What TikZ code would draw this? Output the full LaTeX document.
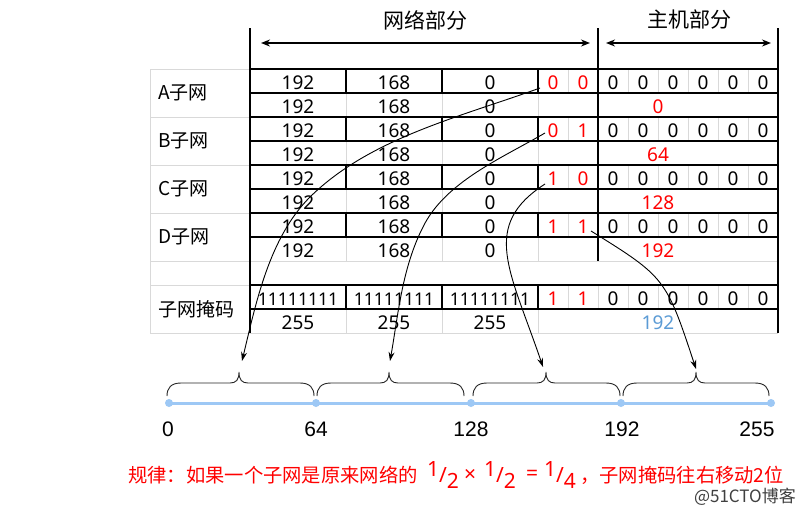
\documentclass[tikz,border=0pt]{standalone}
\usepackage{fontspec}
\setmainfont{Noto Sans}
\newfontfamily\cjkf{Noto Sans CJK SC}
\newfontfamily\arialf{Liberation Sans}
\usetikzlibrary{arrows.meta}
\definecolor{gridgrey}{RGB}{217,217,217}
\definecolor{bitred}{RGB}{255,0,0}
\definecolor{maskblue}{RGB}{91,155,213}
\definecolor{axisblue}{RGB}{157,200,245}
\newcommand\myfrac[2]{\raisebox{0.3em}{#1}/\raisebox{-0.3em}{#2}}
\newcommand\mybrace[3]{%
  \draw[bracepath] (#1,396) .. controls (#1,388) and (#1+4,383) .. (#1+14,383)
    -- (#2-9,383) .. controls (#2-3,383) and (#2,380) .. (#2,372)
    .. controls (#2,380) and (#2+3,383) .. (#2+9,383)
    -- (#3-14,383) .. controls (#3-4,383) and (#3,388) .. (#3,396);}
\begin{document}
\begin{tikzpicture}[x=1pt,y=-1pt,
  gline/.style={draw=gridgrey, line width=1pt},
  bline/.style={draw=black, line width=2pt},
  tcell/.style={anchor=base, inner sep=0pt, font=\fontsize{19}{22}\selectfont},
  onescell/.style={anchor=base, inner sep=0pt, font=\fontsize{17.5}{22}\selectfont},
  redcell/.style={tcell, text=bitred},
  bluecell/.style={tcell, text=maskblue},
  lab/.style={anchor=west, inner sep=0pt, font=\cjkf\fontsize{19}{22}\selectfont},
  hdr/.style={inner sep=0pt, font=\cjkf\fontsize{21}{24}\selectfont},
  harrow/.style={line width=1.5pt, {Stealth[length=9pt,width=7pt]}-{Stealth[length=9pt,width=7pt]}},
  carrow/.style={line width=0.9pt, -{Stealth[length=9pt,width=6pt]}},
  bracepath/.style={draw=black!85, line width=0.9pt},
  axlab/.style={anchor=base, inner sep=0pt, font=\arialf\fontsize{21}{24}\selectfont},
  ruletext/.style={inner sep=0pt, text=bitred, font=\cjkf\fontsize{19.3}{22}\selectfont},
  rulemath/.style={inner sep=0pt, text=bitred, font=\fontsize{21}{24}\selectfont},
]
\useasboundingbox (0,0) rectangle (800,514);
\fill[white] (0,0) rectangle (800,514);

% ---------- grey grid lines ----------
\draw[gline] (150,69) -- (150,333);
\foreach \y in {69,117,165,213,261,285,333} \draw[gline] (150,\y) -- (250,\y);
\draw[gline] (250,261) -- (778,261);
\draw[gline] (250,333) -- (778,333);
\foreach \t in {93,141,189,237,309} \foreach \x in {346,442,538} \draw[gline] (\x,\t) -- (\x,\t+24);
\foreach \t in {69,117,165,213,285} \foreach \x in {568,628,658,688,718,748} \draw[gline] (\x,\t) -- (\x,\t+24);
\draw[gline] (598,285) -- (598,309);

% ---------- thick lines ----------
\draw[bline] (250,28) -- (250,333);
\draw[bline] (778,28) -- (778,333);
\draw[bline] (598,28) -- (598,261);
\foreach \y in {69,93,117,141,165,189,213,237,285,309} \draw[bline] (250,\y) -- (778,\y);
\foreach \t in {69,117,165,213,285} \foreach \x in {346,442,538} \draw[bline] (\x,\t) -- (\x,\t+24);

% ---------- header ----------
\node[hdr] (net) at (425,20) {网络部分};
\node[hdr] (host) at (689,20) {主机部分};
\coordinate (na) at (261,43);
\coordinate (nb) at (590,43);
\coordinate (ha) at (606,43);
\coordinate (hb) at (771,43);
\draw[harrow] (na) -- (nb);
\draw[harrow] (ha) -- (hb);

% ---------- subnet rows ----------
\foreach \r/\Lt/\t/\v/\ba/\bb in {a/A/69/0/0/0, b/B/117/64/0/1, c/C/165/128/1/0, d/D/213/192/1/1} {
  \node[lab] (lab-\r) at (158,\t+24) {{\Lt}子网};
  \node[tcell] (\r-1-a) at (298,\t+20) {192};
  \node[tcell] (\r-1-b) at (394,\t+20) {168};
  \node[tcell] (\r-1-c) at (490,\t+20) {0};
  \node[redcell] (\r-bit1) at (553,\t+20) {\ba};
  \node[redcell] (\r-bit2) at (583,\t+20) {\bb};
  \foreach \x [count=\i] in {613,643,673,703,733,763}
    \node[tcell] (\r-h\i) at (\x,\t+20) {0};
  \node[tcell] (\r-2-a) at (298,\t+44) {192};
  \node[tcell] (\r-2-b) at (394,\t+44) {168};
  \node[tcell] (\r-2-c) at (490,\t+44) {0};
  \node[redcell] (\r-val) at (658,\t+44) {\v};
}

% ---------- mask rows ----------
\node[lab] (lab-m) at (158,309) {子网掩码};
\node[onescell] (m-1-a) at (298,305) {11111111};
\node[onescell] (m-1-b) at (394,305) {11111111};
\node[onescell] (m-1-c) at (490,305) {11111111};
\node[redcell] (m-bit1) at (553,305) {1};
\node[redcell] (m-bit2) at (583,305) {1};
\foreach \x [count=\i] in {613,643,673,703,733,763}
  \node[tcell] (m-h\i) at (\x,305) {0};
\node[tcell] (m-2-a) at (298,329) {255};
\node[tcell] (m-2-b) at (394,329) {255};
\node[tcell] (m-2-c) at (490,329) {255};
\node[bluecell] (m-val) at (658,329) {192};

% ---------- axis ----------
\coordinate (ax0) at (169,403);
\coordinate (ax1) at (316,403);
\coordinate (ax2) at (471,403);
\coordinate (ax3) at (621,403);
\coordinate (ax4) at (771,403);
\draw[axisblue, line width=3pt] (ax0) -- (ax4);
\foreach \p in {ax0,ax1,ax2,ax3,ax4} \fill[axisblue] (\p) circle (4pt);
\node[axlab] (l0) at (168,436) {0};
\node[axlab] (l1) at (316,436) {64};
\node[axlab] (l2) at (471,436) {128};
\node[axlab] (l3) at (622,436) {192};
\node[axlab] (l4) at (757,436) {255};

% ---------- braces ----------
\mybrace{167}{239}{314}
\mybrace{317}{389}{464}
\mybrace{473}{546}{620}
\mybrace{623}{696}{769}

% ---------- curved arrows ----------
\coordinate (s1) at (540,88);
\coordinate (e1) at (242,361);
\coordinate (s2) at (545,133);
\coordinate (e2) at (390,361);
\coordinate (s3) at (545,184);
\coordinate (e3) at (543,367);
\coordinate (s4) at (591,231);
\coordinate (e4) at (696,369);
\draw[carrow] (s1) .. controls (460,117) and (370,138) .. (310,197)
                   .. controls (269,238) and (256,303) .. (e1);
\draw[carrow] (s2) .. controls (502,158) and (445,182) .. (423,227)
                   .. controls (402,268) and (398,316) .. (e2);
\draw[carrow] (s3) .. controls (480,226) and (510,270) .. (e3);
\draw[carrow] (s4) .. controls (665,277) and (666,278) .. (e4);

% ---------- rule text ----------
\node[ruletext, anchor=west] (rule1) at (128,475) {规律：如果一个子网是原来网络的};
\node[rulemath] (f1) at (443,475) {\myfrac{1}{2}};
\node[rulemath] (times) at (470,475) {×};
\node[rulemath] (f2) at (500,475) {\myfrac{1}{2}};
\node[rulemath] (eq) at (532,475) {=};
\node[rulemath] (f3) at (560,475) {\myfrac{1}{4}};
\node[ruletext, anchor=west] (rule2) at (580,475) {，子网掩码往右移动2位};
\node[inner sep=0pt, anchor=east, font=\cjkf\fontsize{17}{19}\selectfont, text=black!75] (wm) at (796,497) {@51CTO博客};
\end{tikzpicture}
\end{document}
